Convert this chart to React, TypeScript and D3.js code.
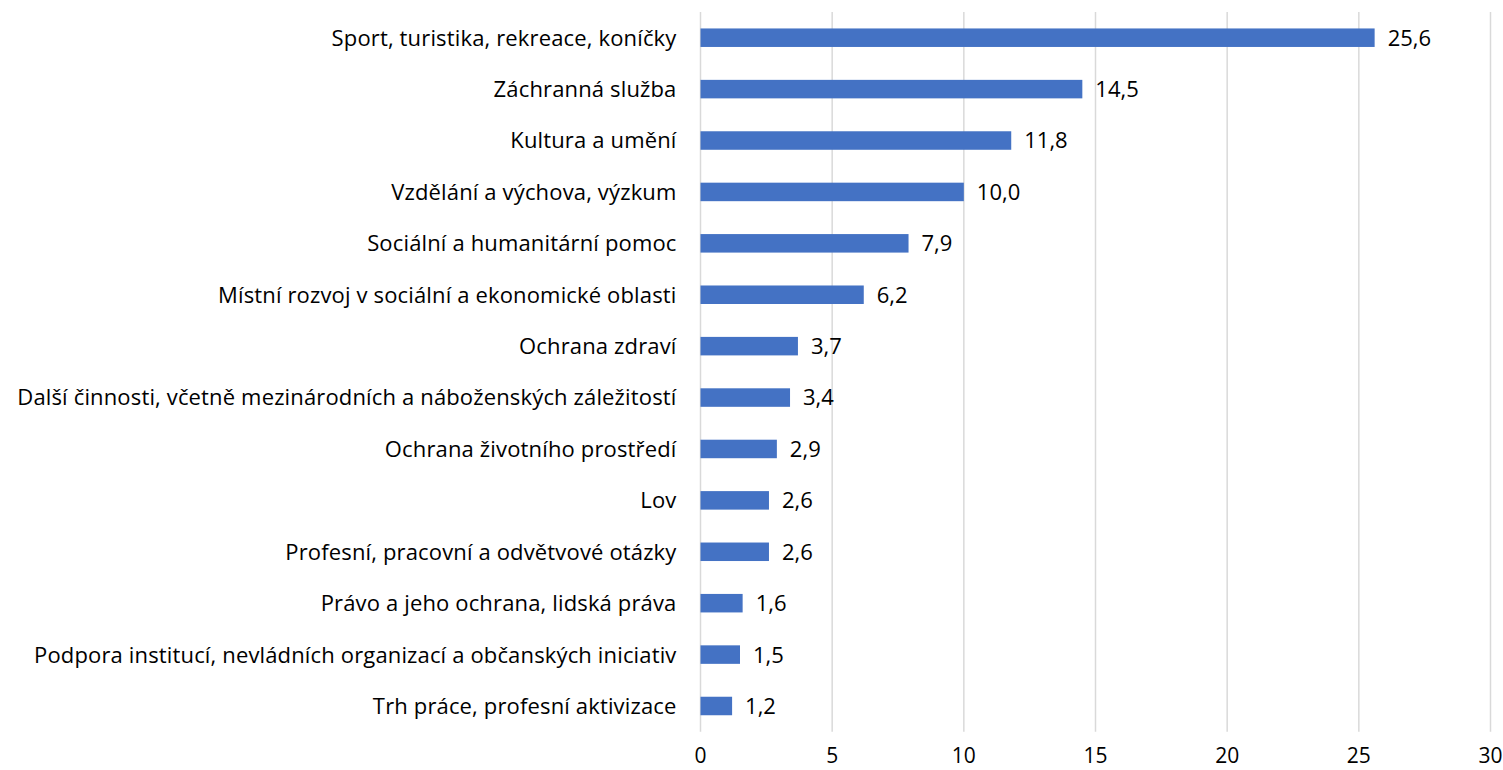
import React, { useEffect, useRef } from "react";
import * as d3 from "d3";

const categories = [
  "Sport, turistika, rekreace, koníčky",
  "Záchranná služba",
  "Kultura a umění",
  "Vzdělání a výchova, výzkum",
  "Sociální a humanitární pomoc",
  "Místní rozvoj v sociální a ekonomické oblasti",
  "Ochrana zdraví",
  "Další činnosti, včetně mezinárodních a náboženských záležitostí",
  "Ochrana životního prostředí",
  "Lov",
  "Profesní, pracovní a odvětvové otázky",
  "Právo a jeho ochrana, lidská práva",
  "Podpora institucí, nevládních organizací a občanských iniciativ",
  "Trh práce, profesní aktivizace",
];
const values = [25.6, 14.5, 11.8, 10.0, 7.9, 6.2, 3.7, 3.4, 2.9, 2.6, 2.6, 1.6, 1.5, 1.2];
const ticks = [0, 5, 10, 15, 20, 25, 30];

const width = 1503;
const height = 770;
const margin = { top: 12, right: 12.5, bottom: 38.3, left: 700.5 };
const font = "'Open Sans', sans-serif";

export default function App() {
  const ref = useRef<SVGSVGElement>(null);

  useEffect(() => {
    const svg = d3.select(ref.current);
    svg.selectAll("*").remove();
    const innerW = width - margin.left - margin.right;
    const innerH = height - margin.top - margin.bottom;

    const x = d3.scaleLinear().domain([0, 30]).range([0, innerW]);
    const y = d3.scaleBand().domain(categories).range([0, innerH]).paddingInner(0.64).paddingOuter(0.32);

    const g = svg.append("g").attr("transform", `translate(${margin.left},${margin.top})`);

    // gridlines
    g.selectAll(".grid").data(ticks).join("line")
      .attr("x1", d => x(d)).attr("x2", d => x(d))
      .attr("y1", 0).attr("y2", innerH)
      .attr("stroke", "#d9d9d9").attr("stroke-width", 1.5);

    // tick labels
    g.selectAll(".tick").data(ticks).join("text")
      .attr("x", d => x(d)).attr("y", innerH + 31.5)
      .attr("text-anchor", "middle")
      .attr("font-family", font).attr("font-size", 21).attr("fill", "#000")
      .text(d => d);

    const data = categories.map((c, i) => ({ c, v: values[i] }));

    g.selectAll(".bar").data(data).join("rect")
      .attr("x", 0).attr("y", d => y(d.c)!)
      .attr("width", d => x(d.v)).attr("height", y.bandwidth())
      .attr("fill", "#4472C4");

    g.selectAll(".val").data(data).join("text")
      .attr("x", d => x(d.v) + 13).attr("y", d => y(d.c)! + y.bandwidth() / 2)
      .attr("dy", "0.36em")
      .attr("font-family", font).attr("font-size", 22).attr("fill", "#000")
      .text(d => d.v.toFixed(1).replace(".", ","));

    g.selectAll(".cat").data(data).join("text")
      .attr("x", -24).attr("y", d => y(d.c)! + y.bandwidth() / 2)
      .attr("dy", "0.36em").attr("text-anchor", "end")
      .attr("font-family", font).attr("font-size", 22).attr("letter-spacing", 0.15).attr("fill", "#000")
      .text(d => d.c);
  }, []);

  return (
    <svg ref={ref} width={width} height={height}
      style={{ position: "absolute", left: 0, top: 0, background: "#fff" }} />
  );
}
